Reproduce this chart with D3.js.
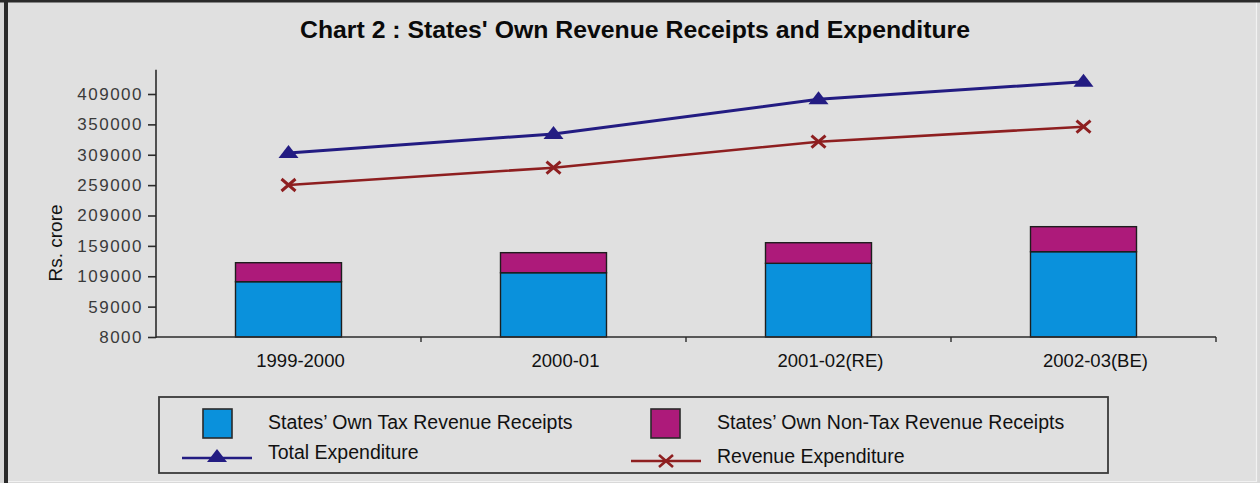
<!DOCTYPE html>
<html>
<head>
<meta charset="utf-8">
<script src="https://cdn.jsdelivr.net/npm/d3@7"></script>
<style>
  html, body { margin: 0; padding: 0; background: #dcdcdc; }
  svg { display: block; font-family: "Liberation Sans", Arial, sans-serif; }
</style>
</head>
<body>
<svg id="chart" width="1260" height="483"></svg>
<script>
// Fiscal years shown on the x axis
const categories = ["1999-2000", "2000-01", "2001-02(RE)", "2002-03(BE)"];
// Stacked bar components (Rs. crore)
const ownTaxRevenue = [91000, 105800, 121300, 140400];
const ownNonTaxRevenue = [31300, 33000, 33900, 41200];
// Line series (Rs. crore)
const totalExpenditure = [302900, 334200, 391300, 420200];
const revenueExpenditure = [250200, 278700, 321500, 346200];
// Y axis tick values and the labels printed beside them
const yTickValues = [0, 50000, 100000, 150000, 200000, 250000, 300000, 350000, 400000];
const yTickLabels = ["8000", "59000", "109000", "159000", "209000", "259000", "309000", "350000", "409000"];

const legendItems = [
  { label: "States\u2019 Own Tax Revenue Receipts", kind: "box", color: "#0a91dc" },
  { label: "States\u2019 Own Non-Tax Revenue Receipts", kind: "box", color: "#ad1a7a" },
  { label: "Total Expenditure", kind: "tri", color: "#231c82" },
  { label: "Revenue Expenditure", kind: "cross", color: "#8e1f20" }
];

const svg = d3.select("#chart");
const W = 1260, H = 483;

// panel background and bevelled frame
svg.append("rect").attr("x", 0).attr("y", 0).attr("width", W).attr("height", H).attr("fill", "#d9d9d9");
svg.append("rect").attr("x", 4).attr("y", 2).attr("width", 1252).attr("height", 479).attr("fill", "#e0e0e0");
svg.append("line").attr("x1", 1256.5).attr("x2", 1256.5).attr("y1", 2).attr("y2", 482).attr("stroke", "#f2f2f2").attr("stroke-width", 1.2);
svg.append("line").attr("x1", 4).attr("x2", 1257).attr("y1", 481.5).attr("y2", 481.5).attr("stroke", "#f2f2f2").attr("stroke-width", 1.2);
svg.append("rect").attr("x", 0).attr("y", 0).attr("width", W).attr("height", 2.5).attr("fill", "#2a2a2a");
svg.append("rect").attr("x", 4).attr("y", 0).attr("width", 4).attr("height", H).attr("fill", "#2a2a2a");

// title
svg.append("text")
  .attr("x", 635).attr("y", 38)
  .attr("text-anchor", "middle")
  .attr("font-size", 24).attr("font-weight", "bold").attr("fill", "#0a0a0a")
  .attr("textLength", 670).attr("lengthAdjust", "spacingAndGlyphs")
  .text("Chart 2 : States' Own Revenue Receipts and Expenditure");

// scales
const x = d3.scaleBand().domain(categories).range([156, 1216]).paddingInner(0.6).paddingOuter(0.3);
const y = d3.scaleLinear().domain([0, 440000]).range([337, 69.7]);
const step = x.step();

// stacked bars
const stackRows = categories.map((c, i) => ({ cat: c, tax: ownTaxRevenue[i], nontax: ownNonTaxRevenue[i] }));
const stacked = d3.stack().keys(["tax", "nontax"])(stackRows);
const barColors = { tax: "#0a91dc", nontax: "#ad1a7a" };
svg.append("g").selectAll("g").data(stacked).join("g")
  .attr("fill", d => barColors[d.key])
  .selectAll("rect").data(d => d).join("rect")
  .attr("x", d => x(d.data.cat))
  .attr("width", x.bandwidth())
  .attr("y", d => y(d[1]))
  .attr("height", d => y(d[0]) - y(d[1]))
  .attr("stroke", "#1e1e1e").attr("stroke-width", 1.4);

// y axis
const yAxis = d3.axisLeft(y)
  .tickValues(yTickValues)
  .tickFormat((d, i) => yTickLabels[i])
  .tickSize(8).tickPadding(5);
const gy = svg.append("g").attr("transform", "translate(156,0)").call(yAxis);
gy.select(".domain").attr("stroke", "#2b2b2b").attr("stroke-width", 1.6).attr("d", `M0,${y(440000)}V${y(0) + 1}`);
gy.selectAll(".tick line").attr("stroke", "#2b2b2b").attr("stroke-width", 1.6);
gy.selectAll(".tick text")
  .attr("font-size", 17).attr("fill", "#3a3a3a").attr("letter-spacing", "1.5px")
  .attr("font-family", "'Liberation Sans', Arial, sans-serif");

// x axis
const xAxis = d3.axisBottom(x).tickSize(0).tickPadding(17);
const gx = svg.append("g").attr("transform", `translate(0,${y(0)})`).call(xAxis);
gx.select(".domain").attr("stroke", "#2b2b2b").attr("stroke-width", 1.6).attr("d", `M156,0H1216`);
gx.selectAll(".tick text").attr("font-size", 18.5).attr("fill", "#111").attr("dx", 12)
  .attr("font-family", "'Liberation Sans', Arial, sans-serif");
// category separator ticks
gx.append("g").selectAll("line").data(categories).join("line")
  .attr("x1", d => x(d) + x.bandwidth() / 2 + step / 2)
  .attr("x2", d => x(d) + x.bandwidth() / 2 + step / 2)
  .attr("y1", 0).attr("y2", 5)
  .attr("stroke", "#2b2b2b").attr("stroke-width", 1.4);

// y axis title
svg.append("text")
  .attr("transform", "translate(62,243) rotate(-90)")
  .attr("text-anchor", "middle")
  .attr("font-size", 19).attr("fill", "#111")
  .text("Rs. crore");

// marker shapes
function trianglePath(cx, cy) {
  return `M${cx - 10},${cy + 5}L${cx},${cy - 8}L${cx + 10},${cy + 5}Z`;
}
function crossPath(cx, cy) {
  return `M${cx - 7},${cy - 6}L${cx + 7},${cy + 6}M${cx - 7},${cy + 6}L${cx + 7},${cy - 6}`;
}

const cx = c => x(c) + x.bandwidth() / 2;
const line = d3.line().x(d => cx(d.cat)).y(d => y(d.v));

const teData = categories.map((c, i) => ({ cat: c, v: totalExpenditure[i] }));
const reData = categories.map((c, i) => ({ cat: c, v: revenueExpenditure[i] }));

svg.append("path").datum(teData).attr("d", line)
  .attr("fill", "none").attr("stroke", "#231c82").attr("stroke-width", 3);
svg.append("g").selectAll("path").data(teData).join("path")
  .attr("d", d => trianglePath(cx(d.cat), y(d.v)))
  .attr("fill", "#231c82");

svg.append("path").datum(reData).attr("d", line)
  .attr("fill", "none").attr("stroke", "#8e1f20").attr("stroke-width", 2.6);
svg.append("g").selectAll("path").data(reData).join("path")
  .attr("d", d => crossPath(cx(d.cat), y(d.v)))
  .attr("fill", "none").attr("stroke", "#8e1f20").attr("stroke-width", 3);

// legend
const lg = svg.append("g");
lg.append("rect").attr("x", 159).attr("y", 397).attr("width", 949).attr("height", 76)
  .attr("fill", "#e0e0e0").attr("stroke", "#3a3a3a").attr("stroke-width", 1.8);

const legendPos = [
  { sx: 203, sy: 409, tx: 268, ty: 429 },
  { sx: 651, sy: 409, tx: 717, ty: 429 },
  { sx: 182, sy: 458, tx: 268, ty: 459 },
  { sx: 631, sy: 461, tx: 717, ty: 463 }
];
legendItems.forEach((it, i) => {
  const p = legendPos[i];
  if (it.kind === "box") {
    lg.append("rect").attr("x", p.sx).attr("y", p.sy).attr("width", 29).attr("height", 29)
      .attr("fill", it.color).attr("stroke", "#2a2a2a").attr("stroke-width", 1.6);
  } else {
    lg.append("line").attr("x1", p.sx).attr("x2", p.sx + 70).attr("y1", p.sy).attr("y2", p.sy)
      .attr("stroke", it.color).attr("stroke-width", 2.4);
    if (it.kind === "tri") {
      lg.append("path").attr("d", trianglePath(p.sx + 35, p.sy - 1)).attr("fill", it.color);
    } else {
      lg.append("path").attr("d", crossPath(p.sx + 35, p.sy)).attr("fill", "none")
        .attr("stroke", it.color).attr("stroke-width", 2.6);
    }
  }
  lg.append("text").attr("x", p.tx).attr("y", p.ty)
    .attr("font-size", 19.5).attr("fill", "#111").text(it.label);
});
</script>
</body>
</html>
